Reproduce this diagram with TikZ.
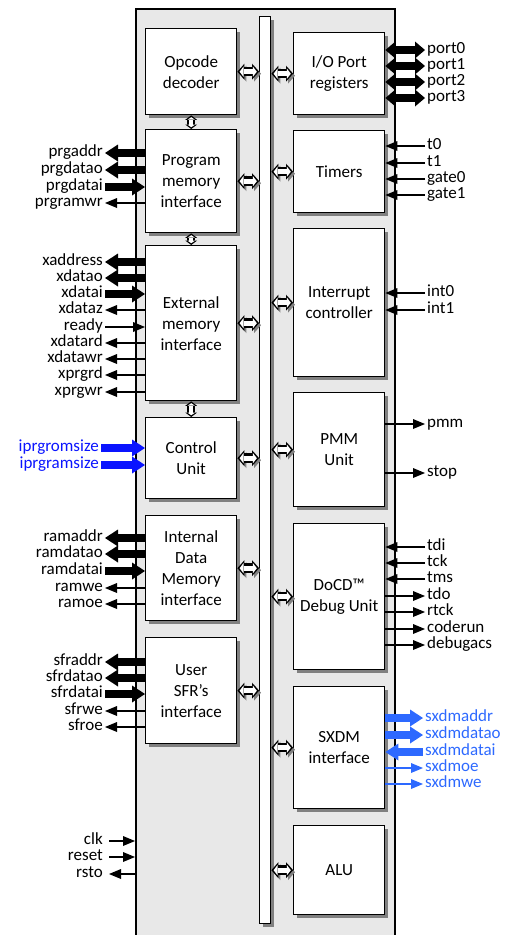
\documentclass[tikz,border=0pt]{standalone}
\usepackage{fontspec}
\setmainfont{Carlito}
\usepackage{tikz}
\usetikzlibrary{arrows.meta,positioning,shadows}
\definecolor{cfgblue}{RGB}{10,20,255}
\definecolor{sxdmblue}{RGB}{45,105,255}

\begin{document}
\begin{tikzpicture}[x=1pt, y=-1pt, every node/.style={align=center},
  unit/.style={rectangle, draw=black, line width=1.4pt, fill=white, minimum width=91, inner sep=0pt, anchor=north west, font=\fontsize{17}{21}\selectfont, drop shadow={shadow xshift=3pt, shadow yshift=-3pt, fill=black!50, opacity=1}},
  sig/.style={font=\fontsize{17}{20}\selectfont, inner xsep=2pt, inner ysep=0pt, text height=11pt, text depth=4pt},
  bigtip/.tip={Triangle[length=13pt,width=17pt,line width=0pt]},
  porttip/.tip={Triangle[length=10pt,width=17pt,line width=0pt]},
  smalltip/.tip={Triangle[length=12pt,width=10pt,line width=0pt]},
  outtip/.tip={Triangle[length=7pt,width=16pt,line width=0pt]},
  intip/.tip={Triangle[length=4pt,width=10.5pt,line width=0pt]},
  busin/.style={line width=8pt, -bigtip},
  busout/.style={line width=8pt, bigtip-},
  busio/.style={line width=8pt, porttip-porttip},
  sigin/.style={line width=2pt, -smalltip},
  sigout/.style={line width=2pt, smalltip-},
  bidir/.style={line width=9.5pt, outtip-outtip,
    preaction={draw=black!50, transform canvas={shift={(2pt,-2pt)}}, outtip-outtip},
    postaction={draw=white, line width=5pt, shorten <=2.2pt, shorten >=2.2pt, intip-intip}},
  vbidir/.style={line width=8pt, {Triangle[length=4.5pt,width=12pt,line width=0pt]}-{Triangle[length=4.5pt,width=12pt,line width=0pt]},
    postaction={draw=white, line width=3.5pt, shorten <=1.8pt, shorten >=1.8pt, {Triangle[length=2.5pt,width=7.5pt,line width=0pt]}-{Triangle[length=2.5pt,width=7.5pt,line width=0pt]}}}]
\useasboundingbox (0,0) rectangle (506,935);

% core frame and internal bus
\node[draw, line width=1.5pt, fill=black!9, minimum width=259, minimum height=940, inner sep=0pt, anchor=north west] (core) at (135,8) {};
\node[unit, minimum width=11, minimum height=907] (bus) at (259,16) {};

% left column
\node[unit, minimum height=86] (opcode) at (145,28) {Opcode\\decoder};
\node[unit, minimum height=103] (progmem) at (145,129) {Program\\memory\\interface};
\node[unit, minimum height=155] (extmem) at (145,245) {External\\memory\\interface};
\node[unit, minimum height=81] (ctrl) at (145,417) {Control\\Unit};
\node[unit, minimum height=105] (intmem) at (145,515) {Internal\\Data\\Memory\\interface};
\node[unit, minimum height=106] (usersfr) at (145,637) {User\\SFR’s\\interface};

% right column
\node[unit, minimum height=82] (ioport) at (293,32) {I/O Port\\registers};
\node[unit, minimum height=82] (timers) at (293,130) {Timers};
\node[unit, minimum height=148] (intctl) at (293,228) {Interrupt\\controller};
\node[unit, minimum height=114] (pmmu) at (293,392) {PMM\\Unit};
\node[unit, minimum height=146] (docd) at (293,523) {DoCD™\\Debug Unit};
\node[unit, minimum height=122] (sxdm) at (293,686) {SXDM\\interface};
\node[unit, minimum height=89] (alu) at (293,825) {ALU};

% bus links
\foreach \b in {opcode,progmem,extmem,ctrl,intmem,usersfr}
  \draw[bidir] (\b.east) -- (\b.east -| bus.west);
\foreach \b in {ioport,timers,intctl,pmmu,docd,sxdm,alu}
  \draw[bidir] (\b.west -| bus.east) -- (\b.west);
\draw[vbidir] (opcode.south) -- (progmem.north);
\draw[vbidir] (progmem.south) -- (extmem.north);
\draw[vbidir] (extmem.south) -- (ctrl.north);

% left side signals
\foreach \s/\y/\k in {prgaddr/153/busout, prgdatao/170/busout, prgdatai/187/busin, prgramwr/203/sigout}{
  \node[sig, anchor=east] (\s) at (105,\y) {\s};
  \draw[\k] (\s.east) -- (\s.east -| progmem.west);
}
\foreach \s/\y/\k in {xaddress/262/busout, xdatao/278/busout, xdatai/294/busin, xdataz/310/sigout, ready/327/sigin, xdatard/343/sigout, xdatawr/359/sigout, xprgrd/375/sigout, xprgwr/392/sigout}{
  \node[sig, anchor=east] (\s) at (105,\y) {\s};
  \draw[\k] (\s.east) -- (\s.east -| extmem.west);
}
\foreach \s/\y in {iprgromsize/448, iprgramsize/465}{
  \node[sig, anchor=east, text=cfgblue] (\s) at (101,\y) {\s};
  \draw[busin, cfgblue] (\s.east) -- (\s.east -| ctrl.west);
}
\foreach \s/\y/\k in {ramaddr/538/busout, ramdatao/554/busout, ramdatai/571/busin, ramwe/588/sigout, ramoe/604/sigout}{
  \node[sig, anchor=east] (\s) at (105,\y) {\s};
  \draw[\k] (\s.east) -- (\s.east -| intmem.west);
}
\foreach \s/\y/\k in {sfraddr/662/busout, sfrdatao/678/busout, sfrdatai/694/busin, sfrwe/711/sigout, sfroe/727/sigout}{
  \node[sig, anchor=east] (\s) at (105,\y) {\s};
  \draw[\k] (\s.east) -- (\s.east -| usersfr.west);
}
\foreach \s/\y/\k in {clk/841/sigin, reset/857/sigin, rsto/874/sigout}{
  \node[sig, anchor=east] (\s) at (105,\y) {\s};
  \draw[\k, shorten <=4pt] (\s.east) -- (\s.east -| core.west);
}

% right side signals
\foreach \s/\y in {port0/50, port1/66, port2/82, port3/98}{
  \node[sig, anchor=west] (\s) at (425,\y) {\s};
  \draw[busio] (\s.west) -- (\s.west -| ioport.east);
}
\foreach \s/\y in {t0/146, t1/163, gate0/179, gate1/195}{
  \node[sig, anchor=west] (\s) at (425,\y) {\s};
  \draw[sigin] (\s.west) -- (\s.west -| timers.east);
}
\foreach \s/\y in {int0/293, int1/310}{
  \node[sig, anchor=west] (\s) at (425,\y) {\s};
  \draw[sigin] (\s.west) -- (\s.west -| intctl.east);
}
\foreach \s/\y in {pmm/424, stop/473}{
  \node[sig, anchor=west] (\s) at (425,\y) {\s};
  \draw[sigout] (\s.west) -- (\s.west -| pmmu.east);
}
\foreach \s/\y/\k in {tdi/547/sigin, tck/563/sigin, tms/579/sigin, tdo/596/sigout, rtck/612/sigout, coderun/629/sigout, debugacs/645/sigout}{
  \node[sig, anchor=west] (\s) at (425,\y) {\s};
  \draw[\k] (\s.west) -- (\s.west -| docd.east);
}
\foreach \s/\y/\k in {sxdmaddr/718/busout, sxdmdatao/735/busout, sxdmdatai/752/busin, sxdmoe/768/sigout, sxdmwe/784/sigout}{
  \node[sig, anchor=west, text=sxdmblue] (\s) at (423,\y) {\s};
  \draw[\k, sxdmblue] (\s.west) -- (\s.west -| sxdm.east);
}
\end{tikzpicture}
\end{document}
